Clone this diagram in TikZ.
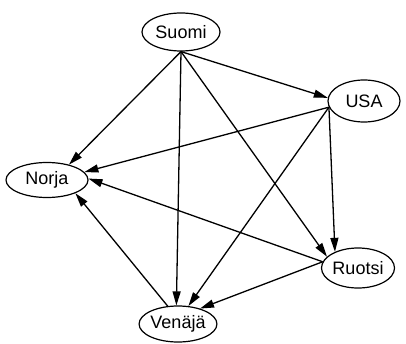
\documentclass[tikz,border=0pt]{standalone}
\usepackage{fontspec}
\setmainfont{Liberation Sans}
\usetikzlibrary{shapes.geometric,arrows.meta}
\begin{document}
\begin{tikzpicture}[x=1pt,y=1pt,
  country/.style={ellipse,draw,line width=1.2pt,inner sep=0pt,font=\fontsize{18}{20}\selectfont},
  link/.style={line width=1.3pt,-{Triangle[length=14pt,width=8pt]}}]
\useasboundingbox (0,0) rectangle (406,343);
\node[country,minimum width=78pt,minimum height=38pt] (suomi) at (181,311) {Suomi};
\node[country,minimum width=82pt,minimum height=35pt] (norja) at (47,163) {Norja};
\node[country,minimum width=72pt,minimum height=42pt] (usa) at (364,242) {USA};
\node[country,minimum width=73pt,minimum height=40pt] (ruotsi) at (358,75) {Ruotsi};
\node[country,minimum width=76pt,minimum height=36pt] (venaja) at (178,19) {Venäjä};
\draw[link] (suomi.south) -- (usa.175);
\draw[link] (suomi.south) -- (norja.35);
\draw[link] (suomi.south) -- (venaja.95);
\draw[link] (suomi.south) -- (ruotsi.160);
\draw[link] (usa.190) -- (norja.12);
\draw[link] (usa.190) -- (venaja.60);
\draw[link] (usa.190) -- (ruotsi.145);
\draw[link] (ruotsi.170) -- (norja.2);
\draw[link] (ruotsi.170) -- (venaja.35);
\draw[link] (venaja.120) -- (norja.-25);
\end{tikzpicture}
\end{document}
